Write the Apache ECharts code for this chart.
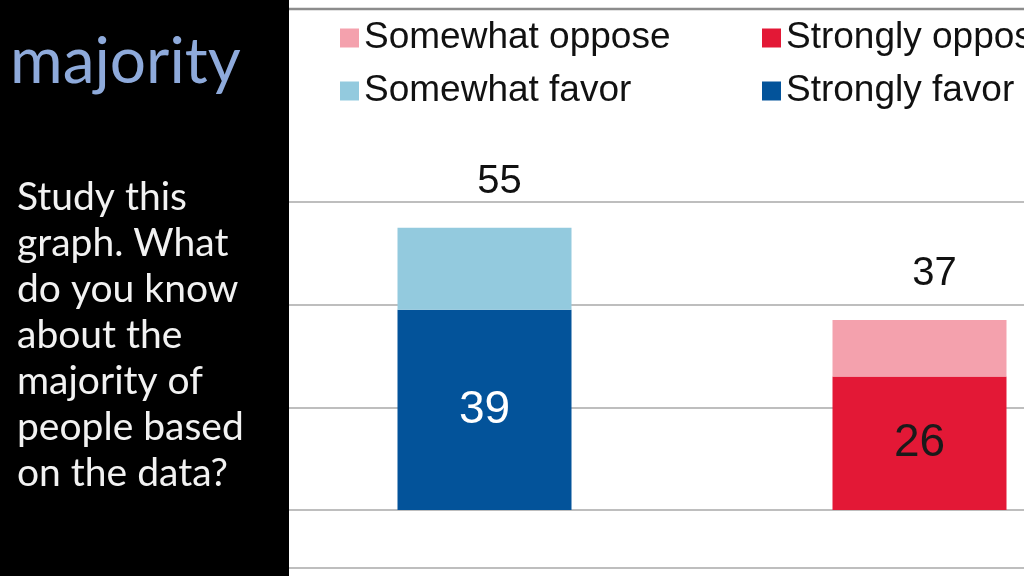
<!DOCTYPE html>
<html>
<head>
<meta charset="UTF-8">
<title>majority</title>
<script src="https://cdnjs.cloudflare.com/ajax/libs/echarts/6.0.0/echarts.min.js"></script>
<style>
	html, body { margin: 0; padding: 0; background: #fff; }
	#main { width: 1024px; height: 576px; }
</style>
</head>
<body>
	<div id="main"></div>

	<script type="text/javascript">
		// data
		var categories = [ 'Favor', 'Oppose' ];
		var stronglyFavor = [ 39, '-' ];
		var somewhatFavor = [ 16, '-' ];
		var stronglyOppose = [ '-', 26 ];
		var somewhatOppose = [ '-', 11 ];
		var totals = [ 55, 37 ];
		var yTicks = [ 0, 20, 40, 60 ];

		var legendFont = 'Liberation Sans, Arial, sans-serif';

		function legendAt(name, left, top) {
			return {
				data : [ name ],
				left : left,
				top : top,
				padding : 0,
				selectedMode : false,
				icon : 'rect',
				itemWidth : 19,
				itemHeight : 19,
				textStyle : {
					fontFamily : legendFont,
					fontSize : 37,
					color : '#111',
					lineHeight : 40
				}
			};
		}

		var myChart = echarts.init(document.getElementById('main'));
		myChart.setOption({
			backgroundColor : '#fff',
			animation : false,
			legend : [ legendAt('Somewhat oppose', 340, 18),
					legendAt('Strongly oppose', 762, 18),
					legendAt('Somewhat favor', 340, 71),
					legendAt('Strongly favor', 762, 71) ],
			grid : {
				left : 267,
				width : 870,
				top : 202,
				height : 308,
				outerBoundsMode : 'none'
			},
			xAxis : {
				type : 'category',
				data : categories,
				axisLine : { show : false },
				axisTick : { show : false },
				axisLabel : { show : false }
			},
			yAxis : {
				type : 'value',
				min : yTicks[0],
				max : yTicks[yTicks.length - 1],
				interval : 20,
				axisLabel : { show : false },
				axisLine : { show : false },
				axisTick : { show : false },
				splitLine : {
					lineStyle : { color : '#a8a8a8', width : 1.5 }
				}
			},
			series : [ {
				name : 'Strongly favor',
				type : 'bar',
				stack : 'all',
				barWidth : 174,
				data : stronglyFavor,
				itemStyle : { color : '#03539a' },
				label : {
					show : true,
					position : 'inside',
					fontFamily : legendFont,
					fontSize : 46,
					color : '#fff'
				}
			}, {
				name : 'Strongly oppose',
				type : 'bar',
				stack : 'all',
				barWidth : 174,
				data : stronglyOppose,
				itemStyle : { color : '#e31836' },
				label : {
					show : true,
					position : 'inside',
					fontFamily : legendFont,
					fontSize : 46,
					color : '#1a1a1a'
				}
			}, {
				name : 'Somewhat favor',
				type : 'bar',
				stack : 'all',
				barWidth : 174,
				data : somewhatFavor,
				itemStyle : { color : '#93cade' },
				label : {
					show : true,
					position : 'top',
					distance : 26,
					offset : [ 15, 0 ],
					fontFamily : legendFont,
					fontSize : 40,
					color : '#111',
					formatter : function(p) {
						return totals[p.dataIndex];
					}
				}
			}, {
				name : 'Somewhat oppose',
				type : 'bar',
				stack : 'all',
				barWidth : 174,
				data : somewhatOppose,
				itemStyle : { color : '#f4a1ad' },
				label : {
					show : true,
					position : 'top',
					distance : 26,
					offset : [ 15, 0 ],
					fontFamily : legendFont,
					fontSize : 40,
					color : '#111',
					formatter : function(p) {
						return totals[p.dataIndex];
					}
				}
			} ],
			graphic : [ {
				// frame lines of the pasted chart
				type : 'line',
				shape : { x1 : 289, y1 : 9, x2 : 1024, y2 : 9 },
				style : { stroke : '#8c8c8c', lineWidth : 2.5 }
			}, {
				type : 'line',
				shape : { x1 : 289, y1 : 568, x2 : 1024, y2 : 568 },
				style : { stroke : '#a8a8a8', lineWidth : 1.5 }
			}, {
				// black side panel of the slide
				type : 'rect',
				z : 100,
				shape : { x : 0, y : 0, width : 289, height : 576 },
				style : { fill : '#000' }
			}, {
				type : 'text',
				z : 101,
				left : 10,
				top : 30,
				style : {
					text : 'majority',
					fill : '#8eaadb',
					font : '64px Lato, "Open Sans", sans-serif'
				}
			}, {
				type : 'text',
				z : 101,
				left : 17,
				top : 174,
				style : {
					text : 'Study this\ngraph. What\ndo you know\nabout the\nmajority of\npeople based\non the data?',
					fill : '#f2f2f2',
					font : '39px Lato, "Open Sans", sans-serif',
					lineHeight : 46
				}
			} ]
		});
	</script>
</body>
</html>
